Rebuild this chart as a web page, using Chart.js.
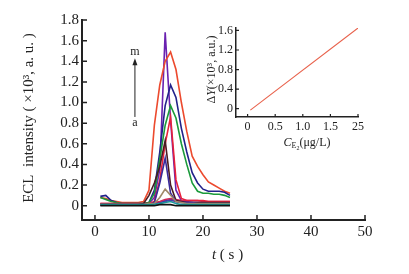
<!DOCTYPE html>
<html>
<head>
<meta charset="utf-8">
<script src="https://cdn.jsdelivr.net/npm/chart.js@4/dist/chart.umd.min.js"></script>
<style>
  body { margin: 0; background: #fff; }
  #wrap { position: relative; width: 409px; height: 274px; }
  canvas { position: absolute; }
  #main { left: 0; top: 0; }
  #inset { left: 190px; top: 14px; }
</style>
</head>
<body>
<div id="wrap">
  <canvas id="main" width="409" height="274"></canvas>
  <canvas id="inset" width="200" height="140"></canvas>
</div>
<script>
// time axis (s)
const times = [1,2,3,4,5,6,7,8,9,10,11,12,13,14,15,16,17,18,19,20,21,22,23,24,25];

// ECL intensity curves, a -> m (x10^3 a.u.)
const curveA = [0.01,0.01,0.01,0.01,0.01,0.01,0.01,0.01,0.01,0.01,0.01,0.02,0.03,0.04,0.02,0.01,0.01,0.01,0.01,0.01,0.01,0.01,0.01,0.01,0.01];
const curveB = [0.00,0.00,0.00,0.00,0.00,0.00,0.00,0.00,0.00,0.00,0.00,0.01,0.01,0.01,0.00,0.00,0.00,0.00,0.00,0.00,0.00,0.00,0.00,0.00,0.00];
const curveC = [0.01,0.01,0.01,0.01,0.01,0.01,0.01,0.01,0.01,0.02,0.02,0.08,0.16,0.10,0.04,0.03,0.02,0.02,0.02,0.02,0.02,0.02,0.02,0.02,0.02];
const curveD = [0.01,0.01,0.01,0.01,0.01,0.01,0.01,0.01,0.01,0.01,0.03,0.22,0.46,0.12,0.04,0.03,0.03,0.03,0.02,0.02,0.02,0.02,0.02,0.02,0.02];
const curveE = [0.01,0.01,0.01,0.01,0.01,0.01,0.01,0.01,0.02,0.10,0.22,0.38,0.63,0.20,0.05,0.04,0.03,0.03,0.03,0.03,0.03,0.03,0.03,0.03,0.03];
const curveF = [0.02,0.02,0.02,0.02,0.02,0.02,0.02,0.02,0.02,0.02,0.04,0.25,0.60,0.86,0.25,0.07,0.05,0.05,0.05,0.05,0.04,0.04,0.04,0.04,0.04];
const curveG = [0.08,0.06,0.04,0.03,0.02,0.02,0.02,0.02,0.02,0.03,0.12,0.45,0.78,0.97,0.85,0.60,0.40,0.22,0.14,0.12,0.12,0.11,0.11,0.10,0.08];
const curveH = [0.09,0.10,0.05,0.03,0.02,0.02,0.02,0.02,0.02,0.03,0.15,0.52,0.97,1.17,1.05,0.75,0.52,0.32,0.22,0.16,0.14,0.14,0.14,0.13,0.10];
const curveI = [0.08,0.07,0.05,0.04,0.03,0.03,0.03,0.03,0.04,0.15,0.78,1.17,1.40,1.49,1.32,1.00,0.72,0.48,0.38,0.30,0.23,0.20,0.17,0.14,0.12];
const curveJ = [0.01,0.01,0.01,0.01,0.01,0.01,0.01,0.01,0.01,0.02,0.08,0.35,1.68,0.83,0.15,0.05,0.04,0.03,0.03,0.03,0.03,0.03,0.03,0.03,0.03];
const curveK = [0.01,0.01,0.01,0.01,0.01,0.01,0.01,0.01,0.01,0.01,0.02,0.03,0.04,0.05,0.04,0.03,0.03,0.02,0.02,0.02,0.02,0.02,0.02,0.02,0.02];
const curveL = [0.02,0.02,0.02,0.02,0.02,0.02,0.02,0.02,0.02,0.02,0.03,0.04,0.06,0.07,0.06,0.05,0.05,0.05,0.05,0.04,0.04,0.04,0.04,0.04,0.04];
const curveM = [0.01,0.01,0.01,0.01,0.01,0.01,0.01,0.01,0.01,0.01,0.02,0.03,0.05,0.06,0.05,0.04,0.03,0.03,0.03,0.03,0.03,0.03,0.03,0.03,0.03];

const yTicks = [0,0.2,0.4,0.6,0.8,1.0,1.2,1.4,1.6,1.8];
const yTickLabels = ["0","0.2","0.4","0.6","0.8","1.0","1.2","1.4","1.6","1.8"];
const xTicks = [0,10,20,30,40,50];
const xTickLabels = ["0","10","20","30","40","50"];

// inset: calibration line
const concX = [0.05, 2.0];
const deltaY = [-0.03, 1.65];
const insetXTicks = [0,0.5,1.0,1.5,2.0];
const insetXTickLabels = ["0","0.5","1.0","1.5","25"];
const insetYTicks = [0,0.4,0.8,1.2,1.6];
const insetYTickLabels = ["0","0.4","0.8","1.2","1.6"];

const serif = "'Liberation Serif', 'DejaVu Serif', serif";
const ink = "#222";

const curves = [
  [curveB, "#111111"],
  [curveA, "#1a9a9a"],
  [curveC, "#a08868"],
  [curveD, "#3a2a9a"],
  [curveE, "#4a1a22"],
  [curveF, "#e8203a"],
  [curveG, "#1a9a3a"],
  [curveH, "#22228a"],
  [curveI, "#ec4a2e"],
  [curveL, "#d02858"],
  [curveM, "#3040b0"],
  [curveK, "#7030a8"],
  [curveJ, "#6a22b0"],
];

// draw text made of runs (italic, sub) centred at x,y, optional rotation
function drawRuns(ctx, runs, cx, cy, rot) {
  ctx.save();
  ctx.translate(cx, cy);
  if (rot) ctx.rotate(rot);
  ctx.textBaseline = "middle";
  ctx.fillStyle = ink;
  let total = 0;
  runs.forEach(r => { ctx.font = r.font; total += ctx.measureText(r.t).width; });
  let x = -total / 2;
  runs.forEach(r => {
    ctx.font = r.font;
    ctx.textAlign = "left";
    ctx.fillText(r.t, x, r.dy || 0);
    x += ctx.measureText(r.t).width;
  });
  ctx.restore();
}

// tick marks pointing into the plot
const innerTicks = {
  id: "innerTicks",
  afterDraw(chart, args, opts) {
    const ctx = chart.ctx;
    const { x, y } = chart.scales;
    ctx.save();
    ctx.strokeStyle = ink;
    ctx.lineWidth = opts.width;
    ctx.beginPath();
    x.ticks.forEach(t => {
      const px = x.getPixelForValue(t.value);
      ctx.moveTo(px, x.top);
      ctx.lineTo(px, x.top - opts.len);
    });
    y.ticks.forEach(t => {
      const py = y.getPixelForValue(t.value);
      ctx.moveTo(y.right, py);
      ctx.lineTo(y.right + opts.len, py);
    });
    ctx.stroke();
    ctx.restore();
  }
};

const mainTitles = {
  id: "mainTitles",
  afterDraw(chart) {
    const ctx = chart.ctx;
    const { x, y } = chart.scales;
    const f = "15px " + serif;
    drawRuns(ctx, [{ t: "ECL  intensity ( ×10³, a. u. )", font: f }], 29, (y.top + y.bottom) / 2 - 2, -Math.PI / 2);
    drawRuns(ctx, [
      { t: "t", font: "italic 15px " + serif },
      { t: " ( s )", font: "15px " + serif }
    ], (x.left + x.right) / 2 + 4, 255);

    // a -> m arrow
    const ax = x.getPixelForValue(7.4);
    const yTip = y.getPixelForValue(1.43);
    const yBase = y.getPixelForValue(0.86);
    ctx.save();
    ctx.strokeStyle = ink;
    ctx.fillStyle = ink;
    ctx.lineWidth = 1;
    ctx.beginPath();
    ctx.moveTo(ax, yBase);
    ctx.lineTo(ax, yTip + 5);
    ctx.stroke();
    ctx.beginPath();
    ctx.moveTo(ax, yTip);
    ctx.lineTo(ax - 2.5, yTip + 7);
    ctx.lineTo(ax + 2.5, yTip + 7);
    ctx.closePath();
    ctx.fill();
    ctx.font = "12px " + serif;
    ctx.textAlign = "center";
    ctx.textBaseline = "middle";
    ctx.fillText("m", ax, y.getPixelForValue(1.49));
    ctx.fillText("a", ax, y.getPixelForValue(0.80));
    ctx.restore();
  }
};

const insetTitles = {
  id: "insetTitles",
  afterDraw(chart) {
    const ctx = chart.ctx;
    const { x, y } = chart.scales;
    const f = "12px " + serif;
    drawRuns(ctx, [
      { t: "Δ", font: f },
      { t: "Y", font: "italic " + f },
      { t: "(×10³, a.u.)", font: f }
    ], 22, (y.top + y.bottom) / 2 - 3, -Math.PI / 2);
    drawRuns(ctx, [
      { t: "C", font: "italic " + f },
      { t: "E", font: "8px " + serif, dy: 3 },
      { t: "2", font: "6px " + serif, dy: 5 },
      { t: "(μg/L)", font: f }
    ], (x.left + x.right) / 2 + 10, 129);
  }
};

new Chart(document.getElementById("main").getContext("2d"), {
  type: "line",
  data: {
    datasets: curves.map(([vals, col]) => ({
      data: times.map((t, i) => ({ x: t, y: vals[i] })),
      borderColor: col,
      borderWidth: 1.6,
      pointRadius: 0,
      tension: 0,
      fill: false,
    })),
  },
  options: {
    responsive: false,
    animation: false,
    devicePixelRatio: 1,
    layout: { padding: { left: 0, top: 20, right: 44, bottom: 0 } },
    plugins: {
      legend: { display: false },
      tooltip: { enabled: false },
      innerTicks: { len: 5, width: 1.5 },
    },
    scales: {
      x: {
        type: "linear",
        min: -2.4,
        max: 50,
        afterBuildTicks: (s) => { s.ticks = xTicks.map(v => ({ value: v })); },
        afterFit: (s) => { s.height = 54; },
        ticks: {
          font: { family: serif, size: 15 },
          color: ink,
          padding: 3,
          maxRotation: 0,
          callback: (v, i) => xTickLabels[i],
        },
        grid: { display: false, drawTicks: false },
        border: { color: ink, width: 2 },
      },
      y: {
        min: -0.139,
        max: 1.8,
        afterBuildTicks: (s) => { s.ticks = yTicks.map(v => ({ value: v })); },
        afterFit: (s) => { s.width = 82; },
        ticks: {
          font: { family: serif, size: 15 },
          color: ink,
          padding: 3,
          callback: (v, i) => yTickLabels[i],
        },
        grid: { display: false, drawTicks: false },
        border: { color: ink, width: 2 },
      },
    },
  },
  plugins: [innerTicks, mainTitles],
});

new Chart(document.getElementById("inset").getContext("2d"), {
  type: "line",
  data: {
    datasets: [{
      data: concX.map((c, i) => ({ x: c, y: deltaY[i] })),
      borderColor: "#e8604a",
      borderWidth: 1.1,
      pointRadius: 0,
      fill: false,
    }],
  },
  options: {
    responsive: false,
    animation: false,
    devicePixelRatio: 1,
    layout: { padding: { left: 0, top: 14, right: 32, bottom: 0 } },
    plugins: {
      legend: { display: false },
      tooltip: { enabled: false },
      innerTicks: { len: 3, width: 1.2 },
    },
    scales: {
      x: {
        type: "linear",
        min: -0.21,
        max: 2.0,
        afterBuildTicks: (s) => { s.ticks = insetXTicks.map(v => ({ value: v })); },
        afterFit: (s) => { s.height = 37; },
        ticks: {
          font: { family: serif, size: 12 },
          color: ink,
          padding: 3,
          maxRotation: 0,
          callback: (v, i) => insetXTickLabels[i],
        },
        grid: { display: false, drawTicks: false },
        border: { color: ink, width: 1.5 },
      },
      y: {
        min: -0.17,
        max: 1.65,
        afterBuildTicks: (s) => { s.ticks = insetYTicks.map(v => ({ value: v })); },
        afterFit: (s) => { s.width = 46; },
        ticks: {
          font: { family: serif, size: 12 },
          color: ink,
          padding: 3,
          callback: (v, i) => insetYTickLabels[i],
        },
        grid: { display: false, drawTicks: false },
        border: { color: ink, width: 1.5 },
      },
    },
  },
  plugins: [innerTicks, insetTitles],
});
</script>
</body>
</html>
